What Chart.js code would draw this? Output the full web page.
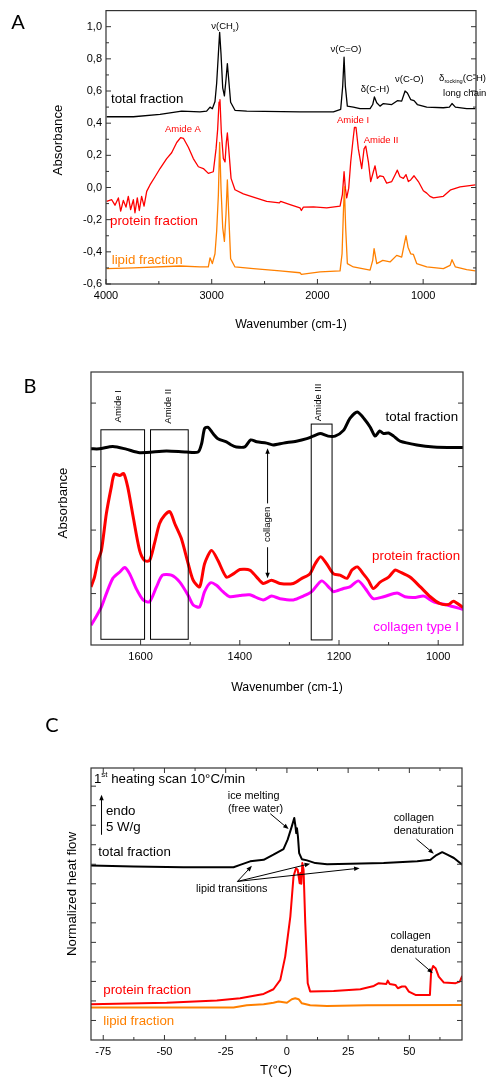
<!DOCTYPE html>
<html>
<head>
<meta charset="utf-8">
<script src="https://cdn.jsdelivr.net/npm/chart.js@4.4.1/dist/chart.umd.min.js"></script>
<style>
  html, body { margin: 0; padding: 0; background: #fff; }
  body { position: relative; width: 486px; height: 1077px; overflow: hidden; }
  canvas { position: absolute; left: 0; }
</style>
</head>
<body>
<canvas id="chartA" width="486" height="335" style="top:0px"></canvas>
<canvas id="chartB" width="486" height="360" style="top:335px"></canvas>
<canvas id="chartC" width="486" height="382" style="top:695px"></canvas>
<script>
// ---- panel A : FTIR spectra, [wavenumber, absorbance]
const aTotal = [[3994,0.44],[3741,0.44],[3489,0.455],[3284,0.475],[3111,0.47],[3048,0.475],[3016,0.50],[2994,0.49],[2969,0.535],[2953,0.65],[2937,0.83],[2925,0.965],[2912,0.83],[2896,0.62],[2880,0.57],[2865,0.67],[2852,0.77],[2839,0.67],[2821,0.53],[2780,0.48],[2669,0.475],[2165,0.47],[1849,0.47],[1780,0.486],[1761,0.63],[1748,0.81],[1736,0.63],[1717,0.506],[1660,0.50],[1597,0.49],[1502,0.49],[1477,0.516],[1461,0.563],[1439,0.527],[1408,0.506],[1376,0.522],[1297,0.516],[1244,0.54],[1203,0.537],[1171,0.60],[1149,0.588],[1118,0.547],[1086,0.54],[1055,0.516],[966,0.50],[809,0.496],[752,0.50],[727,0.522],[695,0.50],[588,0.49],[506,0.49]];
const aProtein = [[3994,-0.086],[3946,-0.076],[3915,-0.11],[3883,-0.065],[3861,-0.147],[3836,-0.08],[3811,-0.122],[3789,-0.055],[3767,-0.137],[3741,-0.076],[3726,-0.157],[3704,-0.065],[3685,-0.143],[3663,-0.055],[3640,-0.116],[3615,-0.024],[3584,0.016],[3536,0.067],[3489,0.118],[3426,0.18],[3379,0.216],[3331,0.28],[3294,0.31],[3268,0.306],[3221,0.25],[3174,0.18],[3126,0.129],[3079,0.118],[3032,0.088],[2985,0.098],[2959,0.24],[2944,0.36],[2931,0.53],[2922,0.547],[2909,0.343],[2890,0.18],[2874,0.159],[2862,0.28],[2852,0.339],[2839,0.24],[2817,0.057],[2780,-0.014],[2701,-0.04],[2606,-0.06],[2480,-0.086],[2360,-0.096],[2348,-0.086],[2259,-0.106],[2165,-0.127],[2152,-0.143],[2133,-0.122],[2038,-0.12],[1912,-0.127],[1786,-0.116],[1764,-0.045],[1748,0.098],[1736,-0.004],[1723,-0.065],[1704,-0.004],[1685,0.16],[1666,0.28],[1650,0.373],[1635,0.373],[1613,0.24],[1581,0.118],[1559,0.24],[1543,0.257],[1518,0.16],[1496,0.037],[1471,0.098],[1455,0.135],[1433,0.057],[1408,0.073],[1376,0.067],[1345,0.027],[1297,0.037],[1266,0.078],[1244,0.108],[1219,0.067],[1187,0.057],[1162,0.08],[1140,0.037],[1118,0.047],[1086,0.073],[1045,0.037],[998,-0.02],[966,-0.035],[935,-0.055],[903,-0.065],[809,-0.055],[739,-0.014],[651,0.004],[506,0.016]];
const aLipid = [[3994,-0.504],[3741,-0.50],[3300,-0.488],[3111,-0.494],[3032,-0.494],[3016,-0.437],[2994,-0.473],[2969,-0.412],[2953,-0.27],[2937,-0.045],[2925,0.28],[2912,-0.004],[2896,-0.249],[2880,-0.335],[2865,-0.167],[2852,0.047],[2839,-0.167],[2821,-0.443],[2780,-0.494],[2606,-0.504],[2354,-0.518],[2165,-0.53],[2152,-0.54],[1975,-0.524],[1786,-0.518],[1767,-0.412],[1755,-0.167],[1745,0.006],[1733,-0.249],[1717,-0.473],[1660,-0.494],[1502,-0.514],[1477,-0.453],[1464,-0.38],[1439,-0.473],[1382,-0.453],[1313,-0.463],[1250,-0.422],[1203,-0.433],[1178,-0.35],[1162,-0.3],[1143,-0.371],[1118,-0.412],[1092,-0.416],[1061,-0.473],[966,-0.494],[809,-0.504],[745,-0.484],[727,-0.449],[695,-0.494],[588,-0.51],[506,-0.518]];
const aXTicks = [4000, 3000, 2000, 1000];
const aXMinor = [3500, 2500, 1500];
const aYTicks = [-0.6, -0.4, -0.2, 0, 0.2, 0.4, 0.6, 0.8, 1.0];
const aYLabels = ['-0,6', '-0,4', '-0,2', '0,0', '0,2', '0,4', '0,6', '0,8', '1,0'];
const aYMinor = [-0.5, -0.3, -0.1, 0.1, 0.3, 0.5, 0.7, 0.9];

// ---- panel B : amide region, arbitrary absorbance units
const bTotal = [[1700,2.28],[1683,2.28],[1656,2.315],[1629,2.275],[1602,2.22],[1548,2.246],[1508,2.23],[1484,2.23],[1477,2.36],[1471,2.60],[1464,2.62],[1454,2.52],[1444,2.44],[1427,2.39],[1417,2.34],[1407,2.31],[1390,2.31],[1378,2.42],[1366,2.39],[1346,2.37],[1333,2.34],[1312,2.37],[1286,2.40],[1265,2.44],[1252,2.48],[1238,2.52],[1222,2.48],[1208,2.48],[1191,2.57],[1178,2.76],[1163,2.86],[1147,2.73],[1137,2.62],[1127,2.48],[1118,2.56],[1110,2.52],[1100,2.53],[1090,2.48],[1077,2.40],[1043,2.34],[1009,2.31],[950,2.30]];
const bProtein = [[1700,0.105],[1693,0.26],[1686,0.52],[1679,0.68],[1669,1.26],[1659,1.68],[1653,1.88],[1642,1.86],[1634,1.89],[1626,1.68],[1615,1.21],[1602,0.68],[1592,0.52],[1582,0.52],[1572,0.79],[1562,1.10],[1552,1.23],[1541,1.29],[1531,1.10],[1518,0.87],[1504,0.47],[1494,0.21],[1481,0.105],[1471,0.47],[1457,0.68],[1444,0.52],[1427,0.26],[1413,0.31],[1400,0.38],[1380,0.37],[1366,0.26],[1353,0.16],[1336,0.21],[1319,0.16],[1292,0.16],[1275,0.24],[1259,0.31],[1248,0.47],[1237,0.58],[1225,0.47],[1211,0.31],[1198,0.29],[1184,0.24],[1174,0.37],[1163,0.42],[1151,0.31],[1141,0.21],[1131,0.08],[1117,0.18],[1100,0.26],[1087,0.37],[1077,0.34],[1057,0.26],[1036,0.105],[1016,-0.05],[996,-0.16],[979,-0.17],[969,-0.12],[950,-0.22]];
const bCollagen = [[1700,-0.50],[1690,-0.37],[1679,-0.21],[1669,0.0],[1656,0.24],[1642,0.34],[1632,0.41],[1622,0.31],[1609,0.08],[1595,-0.10],[1582,-0.13],[1568,0.105],[1556,0.29],[1538,0.29],[1521,0.18],[1504,-0.03],[1494,-0.18],[1481,-0.21],[1471,0.03],[1459,0.17],[1447,0.13],[1434,0.03],[1420,-0.05],[1400,-0.03],[1380,-0.02],[1353,-0.10],[1336,-0.04],[1319,-0.08],[1292,-0.10],[1272,-0.04],[1255,0.03],[1235,0.20],[1218,0.08],[1211,0.03],[1191,0.08],[1178,0.105],[1161,0.20],[1147,0.08],[1131,-0.08],[1110,-0.05],[1083,0.01],[1067,-0.05],[1046,-0.06],[1029,-0.04],[1009,-0.13],[982,-0.18],[950,-0.25]];
const bXTicks = [1600, 1400, 1200, 1000];
const bXMinor = [1500, 1300, 1100];
const bYTicks = [0, 1, 2, 3];
// amide bands: [from, to, bottom, top]
const bBoxes = [[1680, 1592, -0.72, 2.58], [1580, 1504, -0.72, 2.58], [1256, 1214, -0.73, 2.67]];

// ---- panel C : DSC, [T in °C, heat flow (arb.)]
const cTotal = [[-80.2,8.94],[-62.7,8.89],[-42.3,8.85],[-21.8,8.85],[-19.1,8.97],[-15,9.15],[-9.5,9.23],[-5.5,9.49],[-1.4,9.78],[0.3,10.26],[2.0,10.94],[3.0,11.37],[3.5,10.94],[3.8,10.6],[4.1,10.85],[4.5,10.43],[5.0,9.57],[6.1,9.26],[8.2,9.2],[11.6,9.06],[16.4,9.0],[25.9,9.03],[39.5,9.06],[53.2,9.15],[58.6,9.23],[60.7,9.44],[63.4,9.62],[65.5,9.49],[68.2,9.32],[71.6,8.97]];
const cProtein = [[-80.2,1.83],[-49.1,1.91],[-28.6,2.02],[-19.1,2.14],[-9.5,2.36],[-5.5,2.60],[-2.7,3.08],[-0.7,4.27],[1.4,6.32],[2.7,8.38],[3.7,8.80],[4.4,8.72],[5.2,8.03],[5.5,8.55],[5.9,8.0],[6.3,9.06],[6.8,8.72],[7.5,5.98],[8.5,2.91],[9.5,2.48],[19.1,2.51],[30.0,2.60],[35.5,2.77],[37.5,2.91],[40.6,2.87],[41.2,3.04],[42.0,2.87],[44.3,2.82],[45.3,2.65],[47.0,2.74],[48.4,2.74],[49.8,2.48],[52.5,2.31],[58.4,2.31],[58.9,3.50],[59.7,3.79],[60.7,3.68],[62.0,3.25],[64.1,2.94],[68.9,2.91],[70.6,2.99],[71.6,3.28]];
const cLipid = [[-80.2,1.66],[-49.1,1.66],[-21.8,1.66],[-16.4,1.78],[-9.5,1.83],[-5.5,1.91],[-3.4,1.97],[0,1.91],[2.0,2.09],[3.4,2.14],[4.8,2.09],[6.1,1.88],[9.5,1.78],[16.4,1.74],[32.7,1.78],[71.6,1.79]];
const cXTicks = [-75, -50, -25, 0, 25, 50];
const cXMinor = [-62.5, -37.5, -12.5, 12.5, 37.5, 62.5];
const cYTicks = [1, 2, 3, 4, 5, 6, 7, 8, 9, 10, 11, 12, 13];

const RED = '#ff0000', ORANGE = '#ff8000', MAGENTA = '#ff00ff';
const FONT = '"Liberation Sans", Arial, sans-serif';
const tickFont = { family: FONT, size: 11 };

// text with optional sub/superscript parts
function drawText(c, item, x, y) {
  const size = item.size || 9.5;
  const parts = typeof item.t === 'string' ? [[item.t]] : item.t;
  const fam = item.family || FONT;
  const fontOf = p => (p[1] ? size * 0.6 : size) + 'px ' + fam;
  c.save();
  c.translate(x, y);
  if (item.rot) c.rotate(item.rot * Math.PI / 180);
  c.fillStyle = item.color || '#000';
  c.textBaseline = 'middle';
  c.textAlign = 'left';
  let w = 0;
  parts.forEach(p => { c.font = fontOf(p); w += c.measureText(p[0]).width; });
  let cx = item.align === 'left' ? 0 : item.align === 'right' ? -w : -w / 2;
  parts.forEach(p => {
    c.font = fontOf(p);
    const dy = p[1] === 'sub' ? size * 0.35 : p[1] === 'sup' ? -size * 0.38 : 0;
    c.fillText(p[0], cx, dy);
    cx += c.measureText(p[0]).width;
  });
  c.restore();
}

function arrow(c, x1, y1, x2, y2) {
  const ang = Math.atan2(y2 - y1, x2 - x1), h = 6;
  c.beginPath();
  c.moveTo(x1, y1);
  c.lineTo(x2 - Math.cos(ang) * h * 0.7, y2 - Math.sin(ang) * h * 0.7);
  c.stroke();
  c.beginPath();
  c.moveTo(x2, y2);
  c.lineTo(x2 - h * Math.cos(ang - 0.38), y2 - h * Math.sin(ang - 0.38));
  c.lineTo(x2 - h * Math.cos(ang + 0.38), y2 - h * Math.sin(ang + 0.38));
  c.closePath();
  c.fill();
}

// frame, inward ticks, boxes, arrows and labels
function decor(o) {
  return {
    id: 'decor',
    afterDraw(chart) {
      const c = chart.ctx, a = chart.chartArea;
      const px = v => chart.scales.x.getPixelForValue(v);
      const py = v => chart.scales.y.getPixelForValue(v);
      const line = (x1, y1, x2, y2) => { c.beginPath(); c.moveTo(x1, y1); c.lineTo(x2, y2); c.stroke(); };
      c.save();
      c.strokeStyle = '#333';
      c.fillStyle = '#000';
      c.lineWidth = 1.2;
      c.strokeRect(a.left, a.top, a.right - a.left, a.bottom - a.top);
      c.lineWidth = 1;
      o.xTicks.map(v => [v, 5]).concat(o.xMinor.map(v => [v, 3])).forEach(([v, len]) => {
        const x = px(v);
        line(x, a.bottom, x, a.bottom - len);
        if (o.topTicks) line(x, a.top, x, a.top + len);
      });
      o.yTicks.map(v => [v, 5]).concat((o.yMinor || []).map(v => [v, 3])).forEach(([v, len]) => {
        const y = py(v);
        line(a.left, y, a.left + len, y);
        line(a.right, y, a.right - len, y);
      });
      c.strokeStyle = '#000';
      (o.boxes || []).forEach(b => {
        c.strokeRect(px(b[0]), py(b[3]), px(b[1]) - px(b[0]), py(b[2]) - py(b[3]));
      });
      (o.arrows || []).forEach(r => arrow(c, px(r[0]), py(r[1]), px(r[2]), py(r[3])));
      (o.texts || []).forEach(t => drawText(c, t, px(t.x), py(t.y)));
      (o.labels || []).forEach(t => drawText(c, t, t.x, t.y));
      c.restore();
    }
  };
}

function makeChart(id, o) {
  const ctx = document.getElementById(id).getContext('2d');
  return new Chart(ctx, {
    type: 'line',
    data: { datasets: o.datasets },
    options: {
      responsive: false,
      animation: false,
      events: [],
      layout: { padding: o.padding },
      elements: { point: { radius: 0 }, line: { tension: o.tension || 0, borderJoinStyle: 'round' } },
      plugins: { legend: { display: false }, tooltip: { enabled: false } },
      scales: {
        x: {
          type: 'linear', reverse: !!o.reverse, min: o.xMin, max: o.xMax,
          afterBuildTicks: s => { s.ticks = o.xTicks.map(v => ({ value: v })); },
          afterFit: s => { s.height = o.xHeight; },
          grid: { display: false, drawTicks: false },
          border: { display: false },
          ticks: { autoSkip: false, maxRotation: 0, padding: 5, color: '#000', font: tickFont, callback: v => String(v) }
        },
        y: {
          type: 'linear', min: o.yMin, max: o.yMax,
          afterBuildTicks: s => { s.ticks = o.yTicks.map(v => ({ value: v })); },
          afterFit: s => { s.width = o.yWidth; },
          grid: { display: false, drawTicks: false },
          border: { display: false },
          ticks: { display: !!o.yLabels, padding: 4, color: '#000', font: tickFont, callback: (v, i) => o.yLabels ? o.yLabels[i] : '' }
        }
      }
    },
    plugins: [decor(o)]
  });
}

// A
makeChart('chartA', {
  padding: { left: 0, right: 10, top: 7, bottom: 0 },
  yWidth: 106, xHeight: 51,
  reverse: true, xMin: 500, xMax: 4000, yMin: -0.6, yMax: 1.1,
  xTicks: aXTicks, xMinor: aXMinor, yTicks: aYTicks, yMinor: aYMinor, yLabels: aYLabels,
  datasets: [
    { data: aLipid, borderColor: ORANGE, borderWidth: 1.3, order: 0 },
    { data: aProtein, borderColor: RED, borderWidth: 1.3, order: 1 },
    { data: aTotal, borderColor: '#000', borderWidth: 1.3, order: 2 }
  ],
  texts: [
    { t: [['ν(CH'], ['x', 'sub'], [')']], x: 2874, y: 1.0 },
    { t: 'ν(C=O)', x: 1730, y: 0.86 },
    { t: 'δ(C-H)', x: 1455, y: 0.61 },
    { t: 'ν(C-O)', x: 1131, y: 0.673 },
    { t: [['δ'], ['rocking', 'sub'], ['(C-H)']], x: 849, y: 0.68, align: 'left' },
    { t: 'long chain', x: 812, y: 0.583, align: 'left' },
    { t: 'Amide A', x: 3272, y: 0.363, color: RED },
    { t: 'Amide I', x: 1663, y: 0.42, color: RED },
    { t: 'Amide II', x: 1398, y: 0.29, color: RED },
    { t: 'total fraction', x: 3953, y: 0.55, size: 13.3, align: 'left' },
    { t: 'protein fraction', x: 3962, y: -0.21, size: 13.3, align: 'left', color: RED },
    { t: 'lipid fraction', x: 3946, y: -0.455, size: 13.3, align: 'left', color: ORANGE }
  ],
  labels: [
    { t: 'A', x: 18, y: 23, size: 20, family: 'Lato, sans-serif' },
    { t: 'Absorbance', x: 58, y: 140, size: 13.3, rot: -90 },
    { t: 'Wavenumber (cm-1)', x: 291, y: 325, size: 12.3 }
  ]
});

// B
makeChart('chartB', {
  padding: { left: 0, right: 23, top: 37, bottom: 0 },
  yWidth: 91, xHeight: 50,
  reverse: true, xMin: 950, xMax: 1700, yMin: -0.81, yMax: 3.49, tension: 0.25,
  xTicks: bXTicks, xMinor: bXMinor, yTicks: bYTicks,
  datasets: [
    { data: bTotal, borderColor: '#000', borderWidth: 3, order: 0 },
    { data: bProtein, borderColor: RED, borderWidth: 3, order: 1 },
    { data: bCollagen, borderColor: MAGENTA, borderWidth: 3, order: 2 }
  ],
  boxes: bBoxes,
  arrows: [[1344, 1.42, 1344, 2.29], [1344, 0.73, 1344, 0.24]],
  texts: [
    { t: 'Amide I', x: 1644, y: 2.95, rot: -90 },
    { t: 'Amide II', x: 1543, y: 2.95, rot: -90 },
    { t: 'Amide III', x: 1242, y: 3.01, rot: -90 },
    { t: 'collagen', x: 1344, y: 1.09, rot: -90 },
    { t: 'total fraction', x: 960, y: 2.78, size: 13.3, align: 'right' },
    { t: 'protein fraction', x: 956, y: 0.59, size: 13.3, align: 'right', color: RED },
    { t: 'collagen type I', x: 958, y: -0.53, size: 13.3, align: 'right', color: MAGENTA }
  ],
  labels: [
    { t: 'B', x: 30, y: 52, size: 20, family: 'Lato, sans-serif' },
    { t: 'Absorbance', x: 63, y: 168, size: 13.3, rot: -90 },
    { t: 'Wavenumber (cm-1)', x: 287, y: 353, size: 12.3 }
  ]
});

// C
makeChart('chartC', {
  padding: { left: 0, right: 24, top: 73, bottom: 0 },
  yWidth: 91, xHeight: 37,
  xMin: -80, xMax: 71.5, yMin: 0, yMax: 13.93, topTicks: true,
  xTicks: cXTicks, xMinor: cXMinor, yTicks: cYTicks,
  datasets: [
    { data: cTotal, borderColor: '#000', borderWidth: 2, order: 0 },
    { data: cProtein, borderColor: RED, borderWidth: 2, order: 1 },
    { data: cLipid, borderColor: ORANGE, borderWidth: 2, order: 2 }
  ],
  arrows: [[-75.7, 10.51, -75.7, 12.56], [-6.8, 11.59, 0.7, 10.80], [52.9, 10.29, 60.0, 9.54],
           [-20.2, 8.12, -14.3, 8.92], [-20.2, 8.12, 9.5, 9.03], [-20.2, 8.12, 29.7, 8.80],
           [52.5, 4.19, 59.6, 3.42]],
  texts: [
    { t: [['1'], ['st', 'sup'], [' heating scan 10°C/min']], x: -78.8, y: 13.33, size: 13.3, align: 'left' },
    { t: 'endo', x: -73.9, y: 11.71, size: 13.3, align: 'left' },
    { t: '5 W/g', x: -73.9, y: 10.91, size: 13.3, align: 'left' },
    { t: 'total fraction', x: -77.0, y: 9.62, size: 13.3, align: 'left' },
    { t: 'ice melting', x: -13.6, y: 12.51, size: 10.8 },
    { t: '(free water)', x: -12.8, y: 11.83, size: 10.8 },
    { t: 'collagen', x: 43.6, y: 11.38, size: 10.8, align: 'left' },
    { t: 'denaturation', x: 43.6, y: 10.70, size: 10.8, align: 'left' },
    { t: 'lipid transitions', x: -22.5, y: 7.74, size: 10.8 },
    { t: 'collagen', x: 42.3, y: 5.30, size: 10.8, align: 'left' },
    { t: 'denaturation', x: 42.3, y: 4.62, size: 10.8, align: 'left' },
    { t: 'protein fraction', x: -75, y: 2.56, size: 13.3, align: 'left', color: RED },
    { t: 'lipid fraction', x: -75, y: 0.94, size: 13.3, align: 'left', color: ORANGE }
  ],
  labels: [
    { t: 'C', x: 52, y: 31, size: 20, family: 'Lato, sans-serif' },
    { t: 'Normalized heat flow', x: 72, y: 199, size: 13.3, rot: -90 },
    { t: 'T(°C)', x: 276, y: 375, size: 13.3 }
  ]
});
</script>
</body>
</html>
